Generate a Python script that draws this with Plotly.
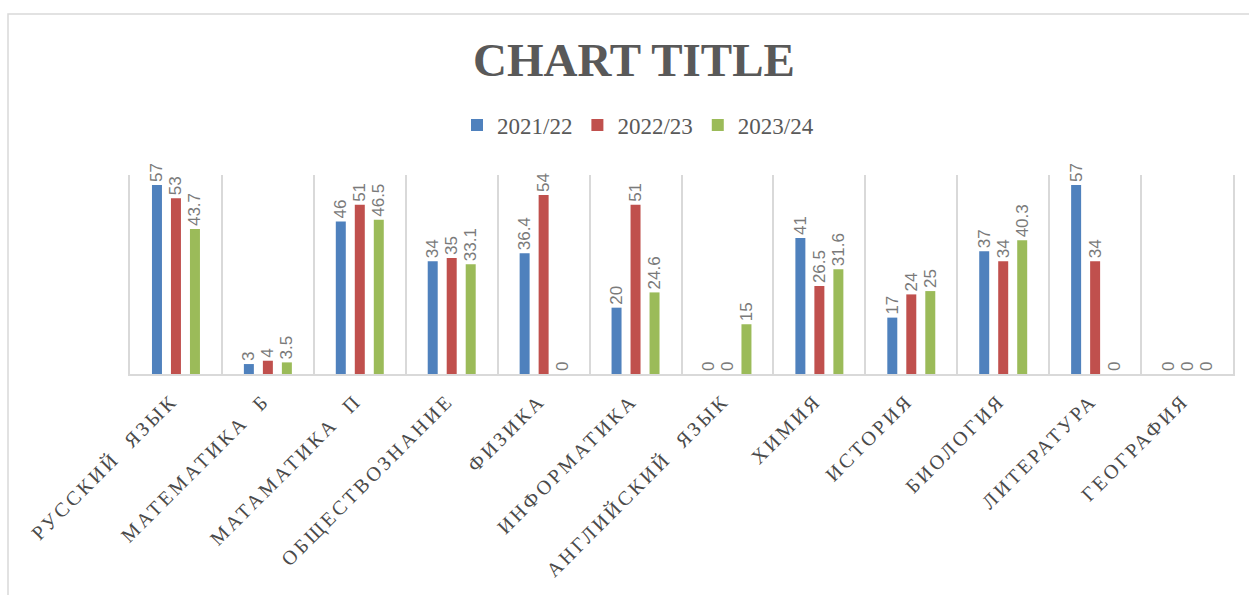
import plotly.graph_objects as go

categories = ["РУССКИЙ  ЯЗЫК", "МАТЕМАТИКА  Б", "МАТАМАТИКА  П", "ОБЩЕСТВОЗНАНИЕ",
              "ФИЗИКА", "ИНФОРМАТИКА", "АНГЛИЙСКИЙ  ЯЗЫК", "ХИМИЯ", "ИСТОРИЯ",
              "БИОЛОГИЯ", "ЛИТЕРАТУРА", "ГЕОГРАФИЯ"]
series_names = ["2021/22", "2022/23", "2023/24"]
v_2021 = [57, 3, 46, 34, 36.4, 20, 0, 41, 17, 37, 57, 0]
v_2022 = [53, 4, 51, 35, 54, 51, 0, 26.5, 24, 34, 34, 0]
v_2023 = [43.7, 3.5, 46.5, 33.1, 0, 24.6, 15, 31.6, 25, 40.3, 0, 0]
colors = ["#4F81BD", "#C0504D", "#9BBB59"]

W, H = 1249, 595
L, R, T, B = 130, 16, 175, 221
pw, ph = W - L - R, H - T - B

SERIF = "Liberation Serif, Times New Roman, serif"

tick_text = ['<span style="letter-spacing:3px">' + c + '</span>' for c in categories]

fig = go.Figure()
for name, vals, col in zip(series_names, [v_2021, v_2022, v_2023], colors):
    fig.add_trace(go.Bar(
        x=categories, y=vals, name=name,
        marker=dict(color=col, line=dict(width=0)),
        text=[f"{v:g}" for v in vals], textposition="outside", textangle=-90,
        constraintext="none",
        textfont=dict(family="Liberation Sans", size=17, color="#7a7a7a"),
        cliponaxis=False,
    ))

def px_x(p):
    return (p - L) / pw

def px_y(p):
    return (H - B - p) / ph

fig.add_shape(type="rect", xref="paper", yref="paper",
              x0=px_x(8), x1=px_x(1256), y0=px_y(600), y1=px_y(14),
              line=dict(color="#d9d9d9", width=1.5), fillcolor="rgba(0,0,0,0)", layer="below")

fig.update_layout(
    width=W, height=H,
    margin=dict(l=L, r=R, t=T, b=B, autoexpand=False),
    paper_bgcolor="white", plot_bgcolor="white",
    barmode="group", bargap=0.38, bargroupgap=0.474,
    title=dict(text="<b>CHART TITLE</b>", x=634 / W, xanchor="center", xref="container",
               y=1 - 60 / H, yanchor="middle", yref="container",
               font=dict(family=SERIF, size=47, color="#595959")),
    legend=dict(orientation="h", x=638 / W, xanchor="center", xref="container",
                y=1 - 125 / H, yanchor="middle", yref="container",
                font=dict(family=SERIF, size=23, color="#595959"),
                itemwidth=30, traceorder="normal"),
    xaxis=dict(tickmode="array", tickvals=categories, ticktext=tick_text,
               tickangle=-45, tickson="boundaries", ticks="",
               showgrid=True, gridcolor="#d9d9d9", gridwidth=1.5,
               showline=True, linecolor="#d9d9d9", linewidth=2,
               range=[-0.5, 11.5], ticklabelstandoff=5, ticklabelshift=-4,
               tickfont=dict(family=SERIF, size=20, color="#4a4a4a")),
    yaxis=dict(range=[0, 60], showgrid=False, zeroline=False, showticklabels=False,
               ticks="", showline=True, mirror=True, linecolor="#d9d9d9", linewidth=1.5),
    showlegend=True,
)

fig.write_html("out.html")
